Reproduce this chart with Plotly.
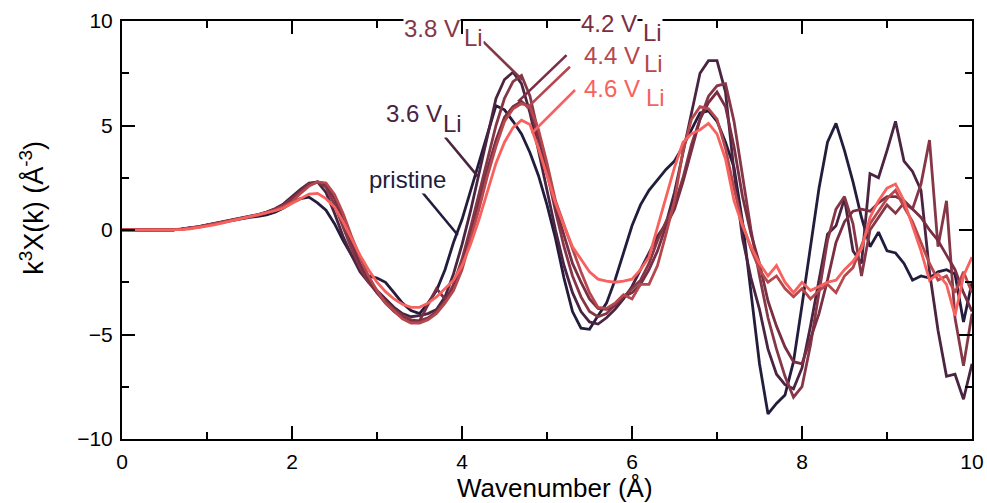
import numpy as np
import plotly.graph_objects as go

# Wavenumber grid (Å^-1 sampling, 0.1 step)
k = np.round(np.arange(0, 10.001, 0.1), 1)

pristine = [
    0, 0, 0, 0, 0, 0, 0.01, 0.04, 0.09, 0.15,
    0.23, 0.31, 0.39, 0.47, 0.54, 0.6, 0.65, 0.72, 0.85, 1.05,
    1.3, 1.5, 1.57, 1.3, 0.95, 0.3, -0.5, -1.2, -1.8, -2.2,
    -2.3, -2.5, -3.0, -3.5, -3.85, -4.0, -3.5, -2.9, -1.9, -0.6,
    0.5, 1.9, 3.2, 4.6, 5.95, 5.75, 5.2, 4.6, 3.7, 2.6,
    1.2, -0.4, -2.3, -3.9, -4.7, -4.75, -4.1, -3.5, -2.4, -1.1,
    0.2, 1.2, 1.9, 2.4, 2.9, 3.3, 4.0, 4.8, 5.6, 5.7,
    5.2, 4.2, 3.0, 0.4, -3.0, -6.4, -8.8, -8.3, -7.9, -6.3,
    -3.6, -0.8, 2.0, 4.2, 5.1, 3.8, 2.3, 0.6, -0.8, -0.1,
    -1.0, -1.1, -1.6, -2.4, -2.2, -2.3, -2.0, -1.9, -2.1, -4.4,
    -2.5,
]

v36 = [
    0, 0, 0, 0, 0, 0, 0.01, 0.05, 0.1, 0.16,
    0.24, 0.32, 0.41, 0.49, 0.57, 0.65, 0.74, 0.86, 1.02, 1.25,
    1.6, 1.95, 2.25, 2.3, 1.8, 0.8, -0.3, -1.2, -2.0, -2.5,
    -2.9, -3.3, -3.7, -4.0, -4.15, -4.1, -4.0, -3.8, -3.2, -2.1,
    -0.7, 0.9, 2.7, 4.5, 6.3, 7.2, 7.55, 7.0, 5.6, 3.8,
    1.9, 0.0, -1.7, -3.0, -3.9, -4.4, -4.5, -4.2, -3.8, -3.3,
    -2.7, -1.9, -1.1, -0.3, 0.3, 1.8, 3.7, 5.6, 7.5, 8.1,
    8.1, 6.6, 2.8, -0.4, -2.3, -3.8, -5.7, -6.9, -7.4, -7.6,
    -6.6, -4.6, -2.4, -0.2, 0.2, 1.5, -1.0, -1.6, 2.7, 2.5,
    3.8, 5.2, 3.3, 2.8, 1.9, -2.0, -4.8, -7.0, -6.9, -8.1,
    -6.4,
]

v38 = [
    0, 0, 0, 0, 0, 0, 0.01, 0.04, 0.09, 0.15,
    0.23, 0.31, 0.4, 0.48, 0.56, 0.64, 0.73, 0.85, 1.0, 1.2,
    1.5, 1.85, 2.2, 2.3, 2.05, 1.2, 0.1, -0.9, -1.8, -2.5,
    -3.0, -3.4, -3.8, -4.1, -4.3, -4.35, -4.2, -3.9, -3.4, -2.6,
    -1.4, 0.1, 1.7, 3.4, 5.0, 6.3, 7.1, 7.4, 6.4, 4.6,
    2.7, 0.9, -0.8, -2.2, -3.2, -3.9, -4.15, -4.0, -3.6, -3.2,
    -2.8, -2.4, -1.6, -0.5, 0.4, 1.2, 2.5, 4.1, 5.3, 6.4,
    6.9, 7.0, 5.2, 2.6, 0.0, -2.2, -4.2, -5.7, -7.0, -8.0,
    -7.5, -5.5, -3.0, -0.5, 1.0, 1.6, 0.3, -2.2, 0.0, 0.6,
    1.2, 0.8, 1.3, 1.0, 2.2, 4.3, -0.8, 1.4, -4.2, -6.5,
    -4.0,
]

v42 = [
    0, 0, 0, 0, 0, 0, 0.01, 0.04, 0.08, 0.14,
    0.22, 0.3, 0.38, 0.47, 0.55, 0.63, 0.72, 0.83, 0.97, 1.15,
    1.42, 1.8, 2.15, 2.3, 2.2, 1.5, 0.5, -0.6, -1.6, -2.4,
    -3.0, -3.5, -3.9, -4.2, -4.4, -4.35, -3.6, -2.8, -3.3, -2.8,
    -1.7, -0.3, 1.3, 2.9, 4.3, 5.4, 5.9, 6.15, 5.8, 4.4,
    2.9, 1.1, -0.3, -1.6, -2.5, -3.3, -3.75, -3.8, -3.6, -3.2,
    -3.0, -2.6, -1.9, -1.0, 0.2, 1.0, 2.3, 3.8, 5.3, 6.1,
    6.6, 5.9, 4.0, 1.6, -0.2, -1.6, -3.4, -4.6, -5.6, -6.3,
    -6.4, -5.2, -4.0, -2.4, -0.6, 0.4, 0.9, 1.0, 0.9, 1.3,
    1.6, 1.6, 1.4, 1.0, 0.6, 0.0, -0.5, -1.2, -1.9, -3.0,
    -3.9,
]

v44 = [
    0, 0, 0, 0, 0, 0, 0.01, 0.04, 0.08, 0.14,
    0.22, 0.3, 0.38, 0.47, 0.55, 0.63, 0.71, 0.82, 0.95, 1.12,
    1.35, 1.75, 2.1, 2.3, 2.25, 1.7, 0.8, -0.3, -1.3, -2.2,
    -2.9, -3.5, -3.9, -4.25, -4.45, -4.45, -4.3, -4.0, -3.5, -2.9,
    -1.9, -0.5, 1.0, 2.6, 4.0, 5.2, 5.8, 6.05, 5.9, 4.8,
    3.2, 1.4, 0.2, -0.9, -2.0, -3.0, -3.7, -3.75, -3.5, -3.1,
    -3.3, -2.6, -2.6, -1.7, -0.2, 1.4, 3.8, 5.3, 5.9, 5.8,
    5.3, 3.9, 2.0, 0.3, -0.9, -1.9, -2.5, -2.2, -2.8, -3.2,
    -2.8, -3.3, -2.9, -2.6, -3.0, -2.2, -1.8, -0.7, 0.3, 0.9,
    1.5, 1.9, 1.1, 0.4, -0.6, -1.6, -2.4, -2.2, -3.0, -2.0,
    -3.0,
]

v46 = [
    0, 0, 0, 0, 0, 0, 0.0, 0.02, 0.06, 0.11,
    0.18, 0.26, 0.35, 0.45, 0.55, 0.64, 0.73, 0.82, 0.92, 1.05,
    1.28, 1.5, 1.72, 1.75, 1.5, 1.1, 0.4, -0.4, -1.2, -1.9,
    -2.5, -2.95, -3.3, -3.55, -3.7, -3.7, -3.5, -3.2, -2.8, -2.4,
    -1.7, -0.7, 0.5, 1.9, 3.2, 4.2, 4.9, 5.25, 5.05, 3.9,
    2.6, 1.3, 0.2, -0.8, -1.4, -2.0, -2.35, -2.45, -2.5, -2.45,
    -2.35, -1.9, -1.3, 0.1, 1.6, 3.0, 4.2, 4.6, 4.8, 5.1,
    4.6, 3.4, 1.4, 0.2, -0.8, -1.6, -2.2, -1.7, -2.5, -3.0,
    -2.5, -2.9, -2.7, -2.5, -2.4, -1.9, -1.5, -0.9, 0.6, 1.4,
    2.0, 2.2, 1.4, 0.2, -1.0, -2.4, -2.1, -2.6, -4.1, -2.2,
    -1.3,
]

series_names = ["pristine", "3.6 V", "3.8 V", "4.2 V", "4.4 V", "4.6 V"]
series_values = [pristine, v36, v38, v42, v44, v46]
colors = ["#241c3c", "#4a2441", "#863747", "#7a2e43", "#b6474d", "#f7615e"]

FONT = "Liberation Sans, Arial, sans-serif"

fig = go.Figure()
for name, vals, col in zip(series_names, series_values, colors):
    fig.add_trace(go.Scatter(
        x=k, y=vals, mode="lines", name=name,
        line=dict(color=col, width=2.8),
        showlegend=False,
    ))

# Curve labels: (text, color, text x, text y, subscript x, subscript y, leader line)
labels = [
    ("pristine", colors[0], 2.894, 2.44, None, None, (3.53, 1.82, 3.95, -0.24)),
    ("3.6 V", colors[1], 3.094, 5.57, 3.765, 5.10, (3.80, 4.45, 4.19, 2.54)),
    ("3.8 V", colors[2], 3.306, 9.64, 4.012, 9.19, (4.25, 9.01, 4.71, 7.18)),
    ("4.2 V", colors[3], 5.388, 9.86, 6.118, 9.45, (5.23, 8.37, 4.66, 6.14)),
    ("4.4 V", colors[4], 5.424, 8.37, 6.129, 7.99, (5.27, 7.81, 4.76, 5.82)),
    ("4.6 V", colors[5], 5.424, 6.75, 6.153, 6.34, (5.33, 6.70, 4.82, 4.63)),
]

for text, col, tx, ty, sx, sy, (x0, y0, x1, y1) in labels:
    fig.add_shape(type="line", xref="x", yref="y", x0=x0, y0=y0, x1=x1, y1=y1,
                  line=dict(color=col, width=2.6))
    fig.add_annotation(x=tx, y=ty, xref="x", yref="y", text=text, showarrow=False,
                       xanchor="left", yanchor="middle", bgcolor="white", borderpad=0,
                       font=dict(family=FONT, size=24, color=col))
    if sx is not None:
        fig.add_annotation(x=sx, y=sy, xref="x", yref="y", text="Li", showarrow=False,
                           xanchor="left", yanchor="middle", bgcolor="white", borderpad=0,
                           font=dict(family=FONT, size=24, color=col))

# Axis titles
fig.add_annotation(x=0.509, y=-0.118, xref="paper", yref="paper",
                   text="Wavenumber (Å)", showarrow=False,
                   xanchor="center", yanchor="middle",
                   font=dict(family=FONT, size=26, color="black"))
fig.add_annotation(x=-0.106, y=0.553, xref="paper", yref="paper",
                   text="k<sup>3</sup>X(k) (Å<sup>-3</sup>)", showarrow=False,
                   textangle=-90, xanchor="center", yanchor="middle",
                   font=dict(family=FONT, size=27, color="black"))

axis_common = dict(
    showgrid=False, zeroline=False,
    showline=True, linecolor="black", linewidth=2, mirror="ticks",
    ticks="inside", ticklen=13, tickwidth=2, tickcolor="black",
    tickfont=dict(family=FONT, size=21, color="black"),
    ticklabelstandoff=3,
)

fig.update_xaxes(range=[0, 10], tickvals=[0, 2, 4, 6, 8, 10],
                 minor=dict(tickvals=[1, 3, 5, 7, 9], ticks="inside", ticklen=7,
                            tickwidth=2, tickcolor="black"),
                 **axis_common)
fig.update_yaxes(range=[-10, 10], tickvals=[-10, -5, 0, 5, 10],
                 minor=dict(tickvals=[-7.5, -2.5, 2.5, 7.5], ticks="inside", ticklen=7,
                            tickwidth=2, tickcolor="black"),
                 **axis_common)

fig.update_layout(
    width=987, height=503,
    margin=dict(l=122, r=15, t=21, b=64, autoexpand=False),
    paper_bgcolor="white", plot_bgcolor="white",
    font=dict(family=FONT),
)

fig.write_html("out.html", include_plotlyjs=True)
